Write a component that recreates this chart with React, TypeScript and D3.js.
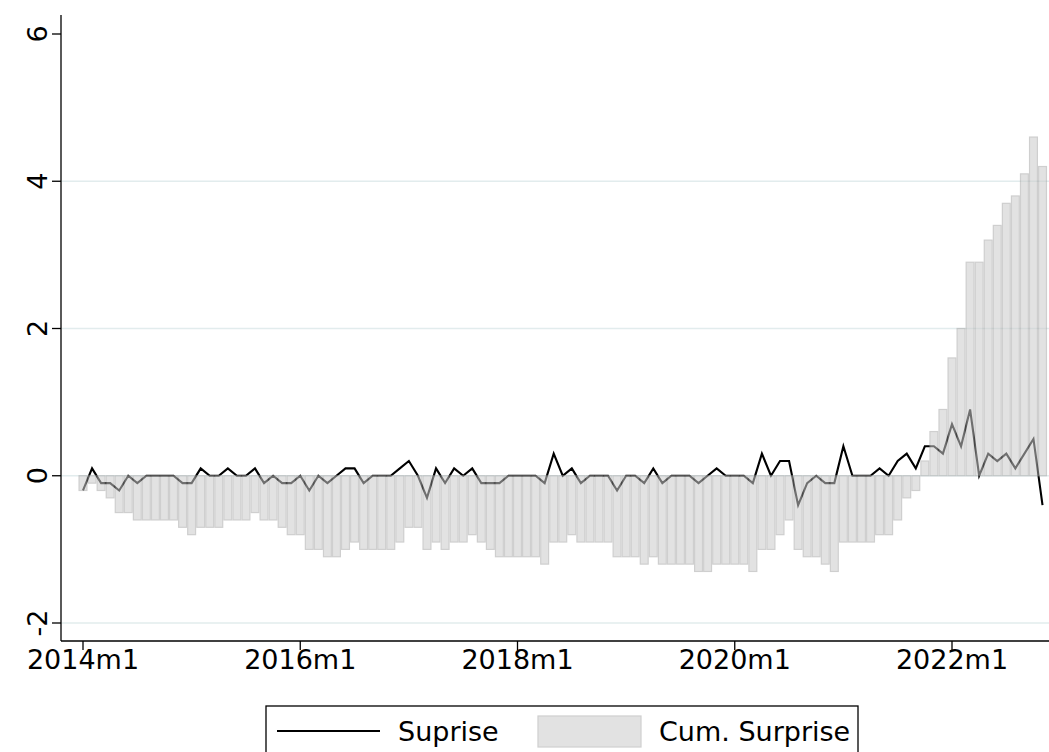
import { useEffect, useRef } from "react";
import * as d3 from "d3";

// monthly, 2014m1 .. 2022m11
const surprise = [
  -0.2, 0.1, -0.1, -0.1, -0.2, 0, -0.1, 0, 0, 0, 0, -0.1,
  -0.1, 0.1, 0, 0, 0.1, 0, 0, 0.1, -0.1, 0, -0.1, -0.1,
  0, -0.2, 0, -0.1, 0, 0.1, 0.1, -0.1, 0, 0, 0, 0.1,
  0.2, 0, -0.3, 0.1, -0.1, 0.1, 0, 0.1, -0.1, -0.1, -0.1, 0,
  0, 0, 0, -0.1, 0.3, 0, 0.1, -0.1, 0, 0, 0, -0.2,
  0, 0, -0.1, 0.1, -0.1, 0, 0, 0, -0.1, 0, 0.1, 0,
  0, 0, -0.1, 0.3, 0, 0.2, 0.2, -0.4, -0.1, 0, -0.1, -0.1,
  0.4, 0, 0, 0, 0.1, 0, 0.2, 0.3, 0.1, 0.4, 0.4, 0.3,
  0.7, 0.4, 0.9, 0, 0.3, 0.2, 0.3, 0.1, 0.3, 0.5, -0.4,
];

const cumSurprise = [
  -0.2, -0.1, -0.2, -0.3, -0.5, -0.5, -0.6, -0.6, -0.6, -0.6, -0.6, -0.7,
  -0.8, -0.7, -0.7, -0.7, -0.6, -0.6, -0.6, -0.5, -0.6, -0.6, -0.7, -0.8,
  -0.8, -1.0, -1.0, -1.1, -1.1, -1.0, -0.9, -1.0, -1.0, -1.0, -1.0, -0.9,
  -0.7, -0.7, -1.0, -0.9, -1.0, -0.9, -0.9, -0.8, -0.9, -1.0, -1.1, -1.1,
  -1.1, -1.1, -1.1, -1.2, -0.9, -0.9, -0.8, -0.9, -0.9, -0.9, -0.9, -1.1,
  -1.1, -1.1, -1.2, -1.1, -1.2, -1.2, -1.2, -1.2, -1.3, -1.3, -1.2, -1.2,
  -1.2, -1.2, -1.3, -1.0, -1.0, -0.8, -0.6, -1.0, -1.1, -1.1, -1.2, -1.3,
  -0.9, -0.9, -0.9, -0.9, -0.8, -0.8, -0.6, -0.3, -0.2, 0.2, 0.6, 0.9,
  1.6, 2.0, 2.9, 2.9, 3.2, 3.4, 3.7, 3.8, 4.1, 4.6, 4.2,
];

const yTicks = [-2, 0, 2, 4, 6];
const gridTicks = [-2, 0, 2, 4];
const xTickMonths = [0, 24, 48, 72, 96];
const xTickLabels = ["2014m1", "2016m1", "2018m1", "2020m1", "2022m1"];

const W = 1049;
const H = 752;
const FONT = "DejaVu Sans, sans-serif";
const FS = 27;

export default function App() {
  const svgRef = useRef<SVGSVGElement>(null);

  useEffect(() => {
    document.body.style.margin = "0";
    const svg = d3.select(svgRef.current!);
    svg.selectAll("*").remove();

    const x = d3.scaleLinear().domain([0, 96]).range([83, 952]);
    const y = d3.scaleLinear().domain([-2, 6]).range([623, 34]);
    const step = x(1) - x(0);

    const axisX = 61;
    const axisY = 641;

    // grid
    svg
      .selectAll(".grid")
      .data(gridTicks)
      .join("line")
      .attr("x1", axisX)
      .attr("x2", W)
      .attr("y1", (d) => y(d))
      .attr("y2", (d) => y(d))
      .attr("stroke", "#e2eced")
      .attr("stroke-width", 1.3);

    // surprise line (under the bars)
    const line = d3
      .line<number>()
      .x((_d, i) => x(i))
      .y((d) => y(d));
    svg
      .append("path")
      .datum(surprise)
      .attr("d", line)
      .attr("fill", "none")
      .attr("stroke", "#000")
      .attr("stroke-width", 2.1)
      .attr("stroke-linejoin", "miter");

    // cumulative bars, translucent
    svg
      .append("g")
      .attr("opacity", 0.55)
      .selectAll("rect")
      .data(cumSurprise)
      .join("rect")
      .attr("x", (_d, i) => x(i) - step / 2 + 0.6)
      .attr("width", step - 1.2)
      .attr("y", (d) => y(Math.max(0, d)))
      .attr("height", (d) => Math.abs(y(d) - y(0)))
      .attr("fill", "#cccccc")
      .attr("stroke", "#a8a8a8")
      .attr("stroke-width", 1.2);

    // axes
    svg
      .append("line")
      .attr("x1", axisX)
      .attr("x2", axisX)
      .attr("y1", 15)
      .attr("y2", axisY)
      .attr("stroke", "#000")
      .attr("stroke-width", 1.3);
    svg
      .append("line")
      .attr("x1", axisX)
      .attr("x2", W)
      .attr("y1", axisY)
      .attr("y2", axisY)
      .attr("stroke", "#000")
      .attr("stroke-width", 1.3);

    svg
      .selectAll(".ytick")
      .data(yTicks)
      .join("line")
      .attr("x1", axisX - 9)
      .attr("x2", axisX)
      .attr("y1", (d) => y(d))
      .attr("y2", (d) => y(d))
      .attr("stroke", "#000")
      .attr("stroke-width", 1.3);
    svg
      .selectAll(".ylab")
      .data(yTicks)
      .join("text")
      .attr("transform", (d) => `translate(47,${y(d)}) rotate(-90)`)
      .attr("text-anchor", "middle")
      .attr("font-family", FONT)
      .attr("font-size", FS)
      .text((d) => String(d));

    svg
      .selectAll(".xtick")
      .data(xTickMonths)
      .join("line")
      .attr("x1", (d) => x(d))
      .attr("x2", (d) => x(d))
      .attr("y1", axisY)
      .attr("y2", axisY + 9)
      .attr("stroke", "#000")
      .attr("stroke-width", 1.3);
    svg
      .selectAll(".xlab")
      .data(xTickMonths)
      .join("text")
      .attr("x", (d) => x(d))
      .attr("y", axisY + 28)
      .attr("text-anchor", "middle")
      .attr("font-family", FONT)
      .attr("font-size", FS)
      .text((_d, i) => xTickLabels[i]);

    // legend
    const lg = svg.append("g");
    lg.append("rect")
      .attr("x", 266)
      .attr("y", 706)
      .attr("width", 592)
      .attr("height", 60)
      .attr("fill", "#fff")
      .attr("stroke", "#000")
      .attr("stroke-width", 1.3);
    lg.append("line")
      .attr("x1", 277)
      .attr("x2", 380)
      .attr("y1", 731)
      .attr("y2", 731)
      .attr("stroke", "#000")
      .attr("stroke-width", 2.1);
    lg.append("text")
      .attr("x", 398)
      .attr("y", 741)
      .attr("font-family", FONT)
      .attr("font-size", FS)
      .text("Suprise");
    lg.append("rect")
      .attr("x", 538)
      .attr("y", 716)
      .attr("width", 103)
      .attr("height", 31)
      .attr("fill", "#cccccc")
      .attr("stroke", "#a8a8a8")
      .attr("stroke-width", 1.2)
      .attr("opacity", 0.55);
    lg.append("text")
      .attr("x", 659)
      .attr("y", 741)
      .attr("font-family", FONT)
      .attr("font-size", FS)
      .text("Cum. Surprise");
  }, []);

  return <svg ref={svgRef} width={W} height={H} style={{ display: "block" }} />;
}
